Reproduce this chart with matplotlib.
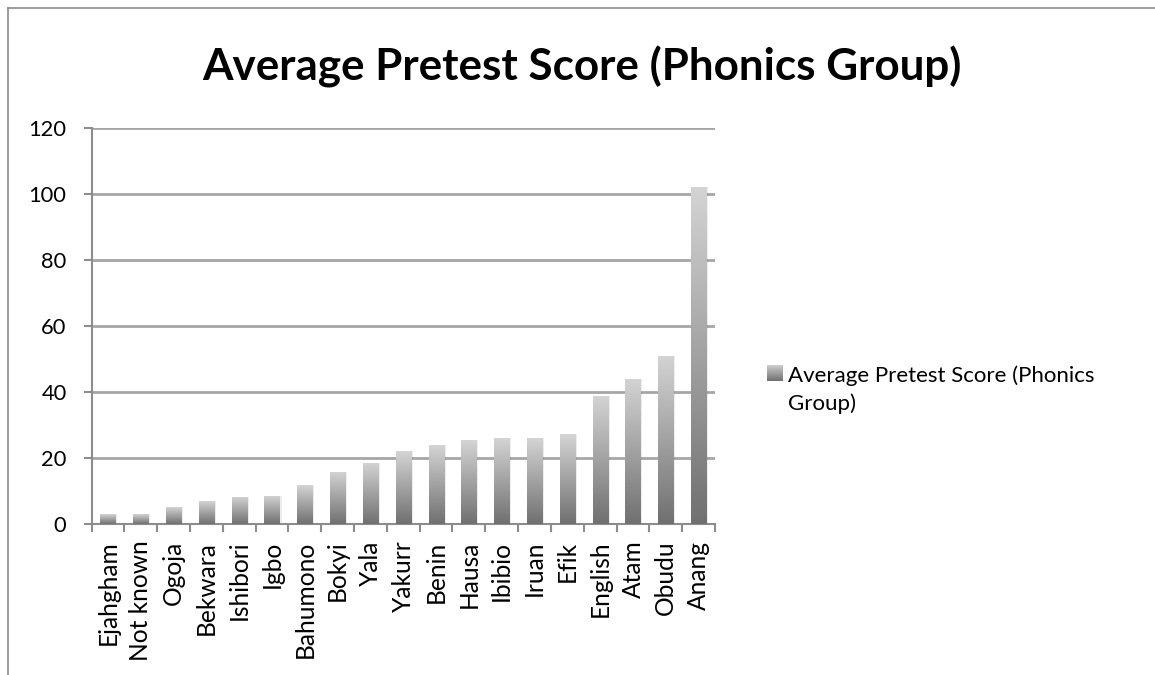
import numpy as np
import matplotlib
matplotlib.use("Agg")
import matplotlib.pyplot as plt
from matplotlib.colors import LinearSegmentedColormap
from matplotlib.lines import Line2D

categories = ["Ejahgham", "Not known", "Ogoja", "Bekwara", "Ishibori", "Igbo",
              "Bahumono", "Bokyi", "Yala", "Yakurr", "Benin", "Hausa", "Ibibio",
              "Iruan", "Efik", "English", "Atam", "Obudu", "Anang"]
values = [3.0, 3.0, 5.1, 6.9, 8.2, 8.5, 11.8, 15.8, 18.6, 22.1, 23.9, 25.4,
          26.0, 26.0, 27.2, 38.8, 44.0, 51.0, 102.0]
series_name = "Average Pretest Score (Phonics Group)"
title = "Average Pretest Score (Phonics Group)"
yticks = [0, 20, 40, 60, 80, 100, 120]

plt.rcParams['font.family'] = ['Lato', 'DejaVu Sans']

fig = plt.figure(figsize=(11.55, 6.75), dpi=100)
renderer = fig.canvas.get_renderer()


def fit_size(s, target_px, weight="normal"):
    t = fig.text(0, 0, s, fontsize=20, fontweight=weight)
    w = t.get_window_extent(renderer).width
    t.remove()
    return 20 * target_px / w


ytick_fs = fit_size("120", 38)
xlab_fs = (fit_size("Ejahgham", 106) + fit_size("Bahumono", 116)) / 2
leg_fs = fit_size("Average Pretest Score (Phonics", 307)
title_fs = fit_size(title, 760, "bold")

ax = fig.add_axes([91.5/1155, 1-524/675, (715-91.5)/1155, (524-128)/675])

cmap = LinearSegmentedColormap.from_list("g", ["#707070", "#d4d4d4"])
grad = np.linspace(0, 1, 256).reshape(-1, 1)

x = np.arange(len(categories))
width = 0.46
bars = ax.bar(x, values, width=width, color="none", edgecolor="none", zorder=3)
for b in bars:
    x0 = b.get_x(); h = b.get_height(); w = b.get_width()
    ax.add_patch(plt.Rectangle((x0 + w, 0), 0.06, h, color="#000000", alpha=0.07,
                               lw=0, zorder=2.5))
    im = ax.imshow(grad, cmap=cmap, origin="lower", aspect="auto",
                   extent=[x0, x0 + w, 0, h], zorder=3, interpolation="bicubic")
    im.set_clip_path(b)

ax.set_xlim(-0.5, len(categories) - 0.5)
ax.set_ylim(0, 120)
ax.set_yticks(yticks)
ax.set_yticklabels([str(t) for t in yticks], fontsize=ytick_fs)
ax.yaxis.grid(True, color="#a6a6a6", linewidth=2, zorder=0)
ax.set_axisbelow(True)

ax.set_xticks(x)
ax.set_xticklabels(categories, rotation=90, fontsize=xlab_fs, va="top")
ax.tick_params(axis="x", length=0, pad=12)
ax.set_xticks(np.arange(-0.5, len(categories), 1), minor=True)
ax.tick_params(axis="x", which="minor", length=5.5, width=1.5, color="#8c8c8c")
ax.tick_params(axis="y", length=5.5, width=1.5, color="#8c8c8c", pad=12.5)

for s in ["top", "right"]:
    ax.spines[s].set_visible(False)
for s in ["left", "bottom"]:
    ax.spines[s].set_color("#8c8c8c")
    ax.spines[s].set_linewidth(1.5)

fig.text(582/1155, 1-80/675, title, ha="center", va="baseline",
         fontsize=title_fs, fontweight="bold")

# legend
lax = fig.add_axes([767/1155, 1-381/675, 16/1155, 16/675])
lax.imshow(grad, cmap=cmap, origin="lower", aspect="auto", extent=[0, 1, 0, 1])
lax.set_axis_off()
fig.text(788/1155, 1-382/675, "Average Pretest Score (Phonics",
         ha="left", va="baseline", fontsize=leg_fs)
fig.text(788/1155, 1-410/675, "Group)",
         ha="left", va="baseline", fontsize=leg_fs)

# chart border
fig.add_artist(Line2D([8/1155, 8/1155], [0, 1-8/675], color="#8c8c8c", lw=1.2,
                      transform=fig.transFigure))
fig.add_artist(Line2D([8/1155, 1], [1-8/675, 1-8/675], color="#8c8c8c", lw=1.2,
                      transform=fig.transFigure))

fig.savefig("out.png", dpi=100, facecolor="white")
